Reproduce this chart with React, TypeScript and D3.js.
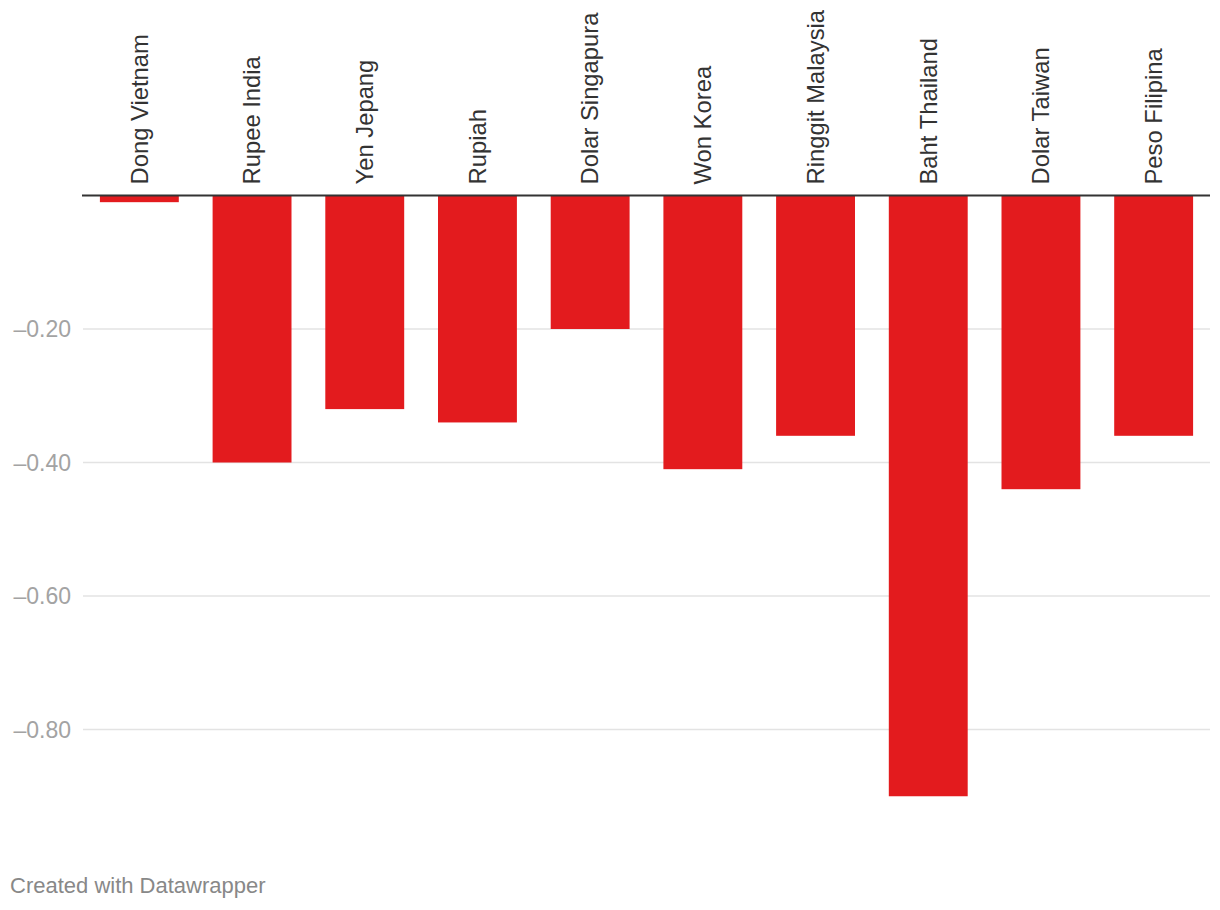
import { useEffect, useRef } from "react";
import * as d3 from "d3";

const currencies = [
  "Dong Vietnam",
  "Rupee India",
  "Yen Jepang",
  "Rupiah",
  "Dolar Singapura",
  "Won Korea",
  "Ringgit Malaysia",
  "Baht Thailand",
  "Dolar Taiwan",
  "Peso Filipina",
];
const changes = [-0.01, -0.4, -0.32, -0.34, -0.2, -0.41, -0.36, -0.9, -0.44, -0.36];
const yTicks = [-0.2, -0.4, -0.6, -0.8];
const credit = "Created with Datawrapper";

const W = 1220;
const H = 910;
const font = "'Liberation Sans', Arial, Helvetica, sans-serif";

export default function App() {
  const svgRef = useRef<SVGSVGElement | null>(null);

  useEffect(() => {
    if (!svgRef.current) return;
    const svg = d3.select(svgRef.current);
    svg.selectAll("*").remove();

    const left = 83;
    const right = 1210;
    const zeroY = 195.5;
    const pxPerUnit = 667.5;

    const x = d3.scaleBand().domain(currencies).range([left, right]).paddingInner(0.3).paddingOuter(0.15);
    const y = d3.scaleLinear().domain([0, -1]).range([zeroY, zeroY + pxPerUnit]);

    // grid
    const grid = svg.append("g");
    grid
      .selectAll("line")
      .data(yTicks)
      .enter()
      .append("line")
      .attr("x1", left)
      .attr("x2", right)
      .attr("y1", (d) => y(d))
      .attr("y2", (d) => y(d))
      .attr("stroke", "#e3e3e3")
      .attr("stroke-width", 1.5);

    grid
      .selectAll("text")
      .data(yTicks)
      .enter()
      .append("text")
      .attr("x", 71)
      .attr("y", (d) => y(d))
      .attr("dy", "0.35em")
      .attr("text-anchor", "end")
      .attr("font-family", font)
      .attr("font-size", 23)
      .attr("fill", "#a3a3a3")
      .text((d) => d.toFixed(2).replace("-", "\u2013"));

    // bars
    svg
      .append("g")
      .selectAll("rect")
      .data(changes)
      .enter()
      .append("rect")
      .attr("x", (_d, i) => x(currencies[i]) ?? 0)
      .attr("width", x.bandwidth())
      .attr("y", y(0))
      .attr("height", (d) => y(d) - y(0))
      .attr("fill", "#e31b1e");

    // baseline
    svg
      .append("line")
      .attr("x1", left - 1)
      .attr("x2", right)
      .attr("y1", y(0))
      .attr("y2", y(0))
      .attr("stroke", "#333")
      .attr("stroke-width", 2);

    // category labels
    svg
      .append("g")
      .selectAll("text")
      .data(currencies)
      .enter()
      .append("text")
      .attr("transform", (d) => `translate(${(x(d) ?? 0) + x.bandwidth() / 2},${y(0) - 11}) rotate(-90)`)
      .attr("dy", "0.35em")
      .attr("text-anchor", "start")
      .attr("font-family", font)
      .attr("font-size", 23.8)
      .attr("fill", "#333")
      .text((d) => d);

    svg
      .append("text")
      .attr("x", 10)
      .attr("y", 893)
      .attr("font-family", font)
      .attr("font-size", 22)
      .attr("fill", "#888")
      .text(credit);
  }, []);

  return (
    <svg
      ref={svgRef}
      width={W}
      height={H}
      style={{ position: "absolute", left: 0, top: 0, background: "#fff" }}
    />
  );
}
